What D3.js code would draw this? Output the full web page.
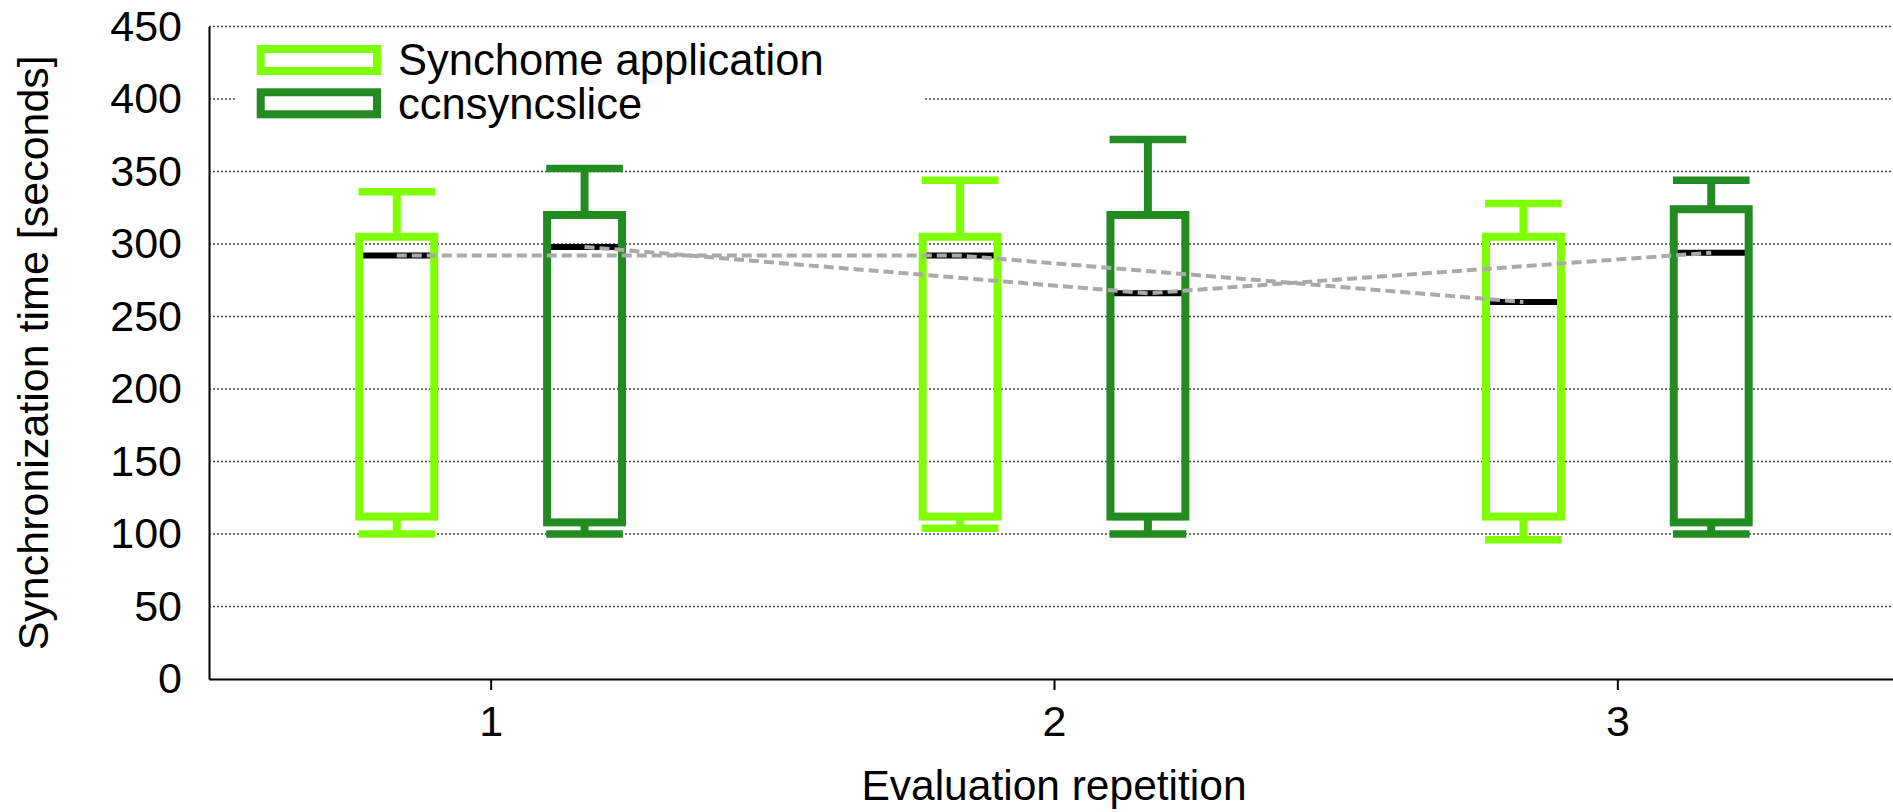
<!DOCTYPE html>
<html>
<head>
<meta charset="utf-8">
<script src="https://cdn.jsdelivr.net/npm/d3@7"></script>
<style>
  body { margin: 0; background: #fff; }
  text { font-family: "Liberation Sans", Arial, sans-serif; font-size: 42px; fill: #000; }
</style>
</head>
<body>
<svg id="chart" width="1893" height="812"></svg>
<script>
// evaluation repetitions on the x axis
const repetitions = [1, 2, 3];
const seriesNames = ["Synchome application", "ccnsyncslice"];
const seriesColors = ["#7fff00", "#228b22"];
const yTicks = [0, 50, 100, 150, 200, 250, 300, 350, 400, 450];

// box statistics per repetition (seconds)
const synchomeLow = [100, 104, 96];
const synchomeQ1 = [112, 112, 112];
const synchomeMedian = [292, 292, 260];
const synchomeQ3 = [305, 305, 305];
const synchomeHigh = [336, 344, 328];

const ccnLow = [100, 100, 100];
const ccnQ1 = [108, 112, 108];
const ccnMedian = [298, 266, 294];
const ccnQ3 = [320, 320, 324];
const ccnHigh = [352, 372, 344];

const series = [
  { low: synchomeLow, q1: synchomeQ1, median: synchomeMedian, q3: synchomeQ3, high: synchomeHigh },
  { low: ccnLow, q1: ccnQ1, median: ccnMedian, q3: ccnQ3, high: ccnHigh }
];

const svg = d3.select("#chart");
const width = 1893;

const x = d3.scaleLinear().domain([0.5, 3.5]).range([209, 1899]);
const y = d3.scaleLinear().domain([0, 450]).range([679, 26.5]);

const offsets = [-1 / 6, 1 / 6];
const boxWidth = 0.133;
const capWidth = 0.136;

// dotted grid
svg.append("g")
  .selectAll("line")
  .data(yTicks.filter(d => d > 0))
  .join("line")
  .attr("x1", x(0.5))
  .attr("x2", width)
  .attr("y1", d => y(d))
  .attr("y2", d => y(d))
  .attr("stroke", "#444")
  .attr("stroke-width", 1.5)
  .attr("stroke-dasharray", "2,2");

// legend background hides the grid behind it
svg.append("rect")
  .attr("x", 235)
  .attr("y", 36)
  .attr("width", 688)
  .attr("height", 100)
  .attr("fill", "#fff");

// axes
const yAxis = svg.append("g")
  .attr("transform", `translate(${x(0.5)},0)`)
  .call(d3.axisLeft(y).tickValues(yTicks).tickSize(0).tickPadding(27));
yAxis.select(".domain").attr("stroke", "#000").attr("stroke-width", 2);
yAxis.selectAll("text").style("font-size", "43px").attr("font-family", null);

const xAxis = svg.append("g")
  .attr("transform", `translate(0,${y(0)})`)
  .call(d3.axisBottom(x).tickValues(repetitions).tickFormat(d3.format("d"))
    .tickSizeInner(11).tickSizeOuter(0).tickPadding(15));
xAxis.select(".domain").attr("stroke", "#000").attr("stroke-width", 2);
xAxis.selectAll(".tick line").attr("stroke", "#000").attr("stroke-width", 2);
xAxis.selectAll("text").style("font-size", "43px").attr("font-family", null);

// boxes
series.forEach((s, si) => {
  const g = svg.append("g");
  const color = seriesColors[si];
  repetitions.forEach((rep, i) => {
    const c = rep + offsets[si];
    const left = x(c - boxWidth / 2);
    const right = x(c + boxWidth / 2);

    // median
    g.append("line")
      .attr("x1", left)
      .attr("x2", right)
      .attr("y1", y(s.median[i]))
      .attr("y2", y(s.median[i]))
      .attr("stroke", "#000")
      .attr("stroke-width", 6);

    // whiskers
    g.append("line")
      .attr("x1", x(c)).attr("x2", x(c))
      .attr("y1", y(s.high[i])).attr("y2", y(s.q3[i]))
      .attr("stroke", color).attr("stroke-width", 8);
    g.append("line")
      .attr("x1", x(c)).attr("x2", x(c))
      .attr("y1", y(s.q1[i])).attr("y2", y(s.low[i]))
      .attr("stroke", color).attr("stroke-width", 8);

    // caps
    [s.high[i], s.low[i]].forEach(v => {
      g.append("line")
        .attr("x1", x(c - capWidth / 2))
        .attr("x2", x(c + capWidth / 2))
        .attr("y1", y(v))
        .attr("y2", y(v))
        .attr("stroke", color)
        .attr("stroke-width", 7.5);
    });

    g.append("rect")
      .attr("x", left)
      .attr("y", y(s.q3[i]))
      .attr("width", right - left)
      .attr("height", y(s.q1[i]) - y(s.q3[i]))
      .attr("fill", "none")
      .attr("stroke", color)
      .attr("stroke-width", 8);
  });
});

// dashed lines joining the medians
const medianLine = d3.line()
  .x(d => x(d.x))
  .y(d => y(d.y));

series.forEach((s, si) => {
  const pts = repetitions.map((rep, i) => ({ x: rep + offsets[si], y: s.median[i] }));
  svg.append("path")
    .attr("d", medianLine(pts))
    .attr("fill", "none")
    .attr("stroke", "#aaa")
    .attr("stroke-width", 4)
    .attr("stroke-dasharray", "10,5");
});

// legend
const legend = svg.append("g");
seriesNames.forEach((name, i) => {
  const cy = 60 + i * 43.3;
  legend.append("rect")
    .attr("x", 260.7)
    .attr("y", cy - 11)
    .attr("width", 116.3)
    .attr("height", 22)
    .attr("fill", "none")
    .attr("stroke", seriesColors[i])
    .attr("stroke-width", 8);
  legend.append("text")
    .attr("x", 398)
    .attr("y", cy)
    .attr("dy", "0.35em")
    .style("font-size", "43.5px")
    .text(name);
});

// axis titles
svg.append("text")
  .attr("transform", `translate(48,${(y(0) + y(450)) / 2}) rotate(-90)`)
  .attr("text-anchor", "middle")
  .style("font-size", "43px")
  .text("Synchronization time [seconds]");

svg.append("text")
  .attr("x", x(2))
  .attr("y", 800)
  .attr("text-anchor", "middle")
  .style("font-size", "42.5px")
  .text("Evaluation repetition");
</script>
</body>
</html>
